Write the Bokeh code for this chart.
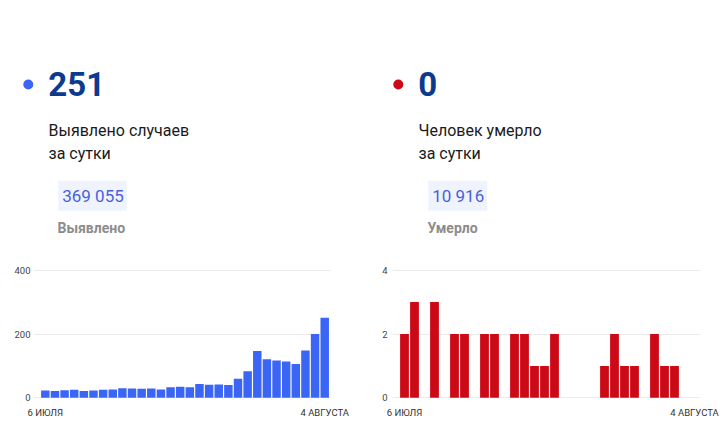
from bokeh.plotting import figure
from bokeh.layouts import column, row
from bokeh.models import Range1d, FixedTicker, ColumnDataSource
from bokeh.core.properties import value
from bokeh.embed import file_html
from bokeh.resources import INLINE

# ---------------- data ----------------
dates = ["6 июля", "7 июля", "8 июля", "9 июля", "10 июля", "11 июля", "12 июля",
         "13 июля", "14 июля", "15 июля", "16 июля", "17 июля", "18 июля", "19 июля",
         "20 июля", "21 июля", "22 июля", "23 июля", "24 июля", "25 июля", "26 июля",
         "27 июля", "28 июля", "29 июля", "30 июля", "31 июля", "1 августа",
         "2 августа", "3 августа", "4 августа"]
cases = [23, 21, 24, 25, 21, 23, 25, 26, 30, 29, 28, 29, 26, 33, 35, 33, 43, 41,
         42, 40, 60, 83, 147, 121, 117, 114, 106, 148, 200, 251]
deaths = [2, 3, 0, 3, 0, 2, 2, 0, 2, 2, 0, 2, 2, 1, 1, 2, 0, 0, 0, 0, 1, 2, 1, 1,
          0, 2, 1, 1, 0, 0]
total_cases = 369055
total_deaths = 10916
first_label = "6 ИЮЛЯ"
last_label = "4 АВГУСТА"
cases_title = ["Выявлено случаев", "за сутки"]
deaths_title = ["Человек умерло", "за сутки"]
cases_total_label = "Выявлено"
deaths_total_label = "Умерло"
cases_yticks = [0, 200, 400]
deaths_yticks = [0, 2, 4]

BLUE = "#3b66f5"
RED = "#cc0a17"
NAVY = "#0b3b8f"
FONT = value("Roboto")


def fmt(n):
    return f"{n:,}".replace(",", " ")


# ---------------- header ----------------
H_W, H_H = 723, 258
head = figure(width=H_W, height=H_H, output_backend="svg", toolbar_location=None,
              x_range=Range1d(0, H_W), y_range=Range1d(H_H, 0),
              x_axis_location=None, y_axis_location=None,
              min_border=0, outline_line_color=None,
              background_fill_color="white", border_fill_color="white")
head.xgrid.visible = False
head.ygrid.visible = False

for dx, color, big, title, total, tlabel in [
    (0, BLUE, cases[-1], cases_title, total_cases, cases_total_label),
    (370, RED, deaths[-1], deaths_title, total_deaths, deaths_total_label),
]:
    head.scatter(x=[27.8 + dx], y=[84], size=10, marker="circle",
                 fill_color=color, line_color=None)
    head.text(x=[47.8 + dx], y=[83.7], text=[str(big)], text_font=FONT,
              text_font_size="33px", text_font_style="bold", text_color=NAVY,
              text_baseline="middle", text_align="left")
    head.text(x=[48 + dx, 48 + dx], y=[129.5, 152.7], text=title,
              text_font=FONT, text_font_size="16px", text_color="#1a1a1a",
              text_baseline="middle", text_align="left")
    head.text(x=[57.7 + dx], y=[195.2], text=[fmt(total)], text_font=FONT,
              text_font_size="17px", text_color="#4a5fdf",
              text_baseline="middle", text_align="left",
              background_fill_color="#eef3fd",
              padding=dict(left=4, right=3, top=5, bottom=5))
    head.text(x=[57 + dx], y=[227.8], text=[tlabel], text_font=FONT,
              text_font_size="14px", text_font_style="bold", text_color="#8c8c8c",
              text_baseline="middle", text_align="left")


# ---------------- charts ----------------
C_TOP = 258          # page y where chart figures start
C_H = 421 - C_TOP    # chart figure height
ZERO_Y = 397.3       # page y of the zero line
TOPTICK_Y = 269.7    # page y of the top gridline
FRAME_TOP = 265
FRAME_BOTTOM = 398


def bar_chart(values, yticks, color, width, border_left, border_right, x_rng, standoff):
    top = yticks[-1]
    ppu = (ZERO_Y - TOPTICK_Y) / top
    y_start = -(FRAME_BOTTOM - ZERO_Y) / ppu
    y_end = top + (TOPTICK_Y - FRAME_TOP) / ppu
    p = figure(width=width, height=C_H, output_backend="svg", toolbar_location=None,
               x_range=Range1d(*x_rng), y_range=Range1d(y_start, y_end),
               min_border_left=border_left,
               min_border_right=border_right, min_border_top=FRAME_TOP - C_TOP,
               min_border_bottom=421 - FRAME_BOTTOM,
               outline_line_color=None, background_fill_color="white",
               border_fill_color="white")
    src = ColumnDataSource(dict(x=list(range(len(dates))), top=values, date=dates))
    p.vbar(x="x", top="top", width=0.88, source=src, fill_color=color, line_color=None)
    p.xgrid.visible = False
    p.ygrid.ticker = FixedTicker(ticks=yticks)
    p.ygrid.grid_line_color = "#ebebeb"
    p.ygrid.level = "underlay"

    ay = p.yaxis[0]
    ay.ticker = FixedTicker(ticks=yticks)
    ay.major_label_standoff = standoff
    ay.major_label_text_color = "#444444"

    ax = p.xaxis[0]
    ax.ticker = FixedTicker(ticks=[0, len(dates) - 1])
    ax.major_label_overrides = {0: first_label, len(dates) - 1: last_label}
    ax.major_label_standoff = 8
    ax.major_label_text_color = "#333333"

    for a in (ax, ay):
        a.axis_line_color = None
        a.major_tick_line_color = None
        a.minor_tick_line_color = None
        a.major_tick_out = 0
        a.major_tick_in = 0
        a.major_label_text_font = "Roboto"
        a.major_label_text_font_size = "9.5px"
    return p


left = bar_chart(cases, cases_yticks, BLUE, 360, 33, 30, (-1.227, 29.6), 3)
right = bar_chart(deaths, deaths_yticks, RED, 363, 32, 23, (-1.2, 29.6), 5)

layout = column(head, row(left, right, spacing=0), spacing=0)

open("out.html", "w").write(file_html(layout, INLINE))
